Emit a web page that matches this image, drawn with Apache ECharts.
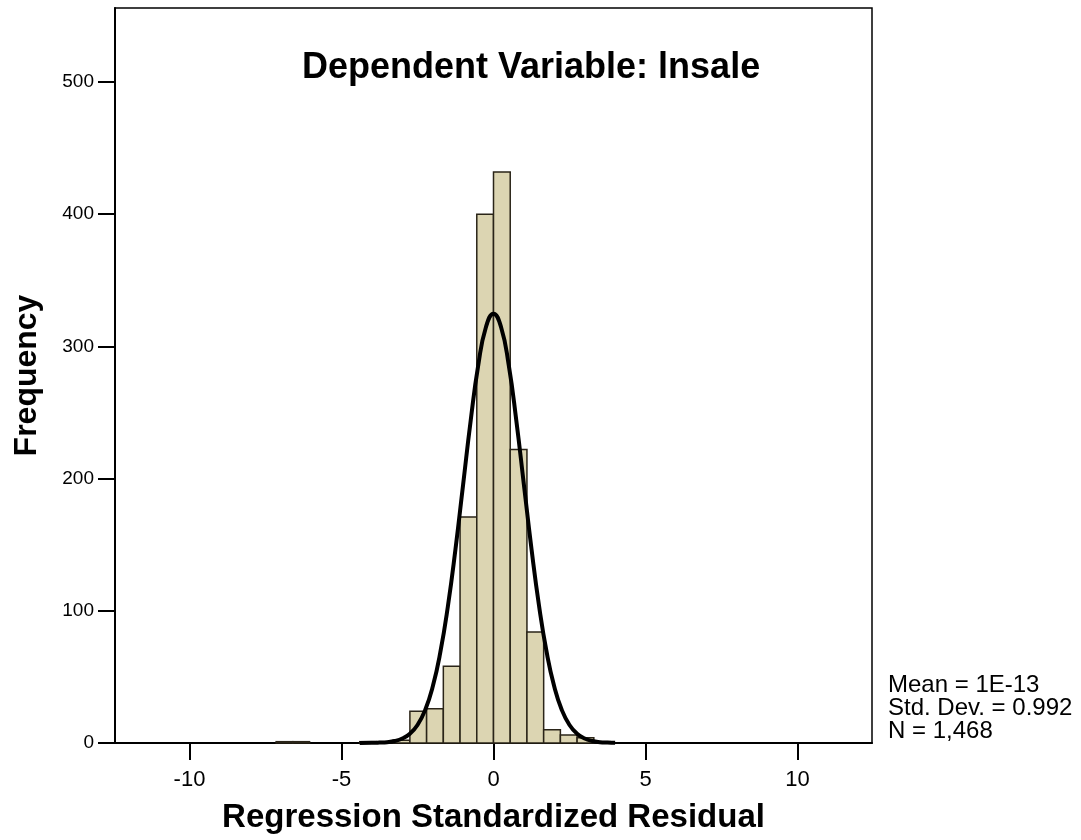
<!DOCTYPE html>
<html>
<head>
<meta charset="utf-8">
<script src="https://cdn.jsdelivr.net/npm/echarts@6/dist/echarts.min.js"></script>
<style>
  html, body { margin: 0; padding: 0; background: #fff; }
  #main { width: 1081px; height: 840px; }
</style>
</head>
<body>
<div id="main"></div>
<script>
var chart = echarts.init(document.getElementById('main'));

// histogram bins (start of each bin), width 0.55
var binWidth = 0.55;
var binStarts = [-7.15, -6.6, -4.4, -3.85, -3.3, -2.75, -2.2, -1.65, -1.1, -0.55, 0, 0.55, 1.1, 1.65, 2.2, 2.75, 3.3];
var counts    = [1, 1, 1, 1, 2, 24, 26, 58, 171, 400, 432, 222, 84, 10, 6, 4, 1];

// normal curve heights read along the x axis
var curveX = [-4.4, -4, -3.75, -3.5, -3.25, -3, -2.75, -2.5, -2.25, -2, -1.75, -1.5, -1.25, -1, -0.75, -0.5, -0.25, 0,
              0.25, 0.5, 0.75, 1, 1.25, 1.5, 1.75, 2, 2.25, 2.5, 2.75, 3, 3.25, 3.5, 3.75, 4];
var curveY = [0, 0.1, 0.3, 0.6, 1.5, 3.4, 7, 13.6, 24.8, 42.5, 68.5, 103.5, 146.8, 195.4, 244, 286, 314.5, 324.7,
              314.5, 286, 244, 195.4, 146.8, 103.5, 68.5, 42.5, 24.8, 13.6, 7, 3.4, 1.5, 0.6, 0.3, 0.1];

var yTicks = [0, 100, 200, 300, 400, 500];
var xTicks = [-10, -5, 0, 5, 10];

var statsLines = ['Mean = 1E-13', 'Std. Dev. = 0.992', 'N = 1,468'];

var font = "'Liberation Sans', Arial, sans-serif";

var barData = binStarts.map(function (s, i) {
  return [s, s + binWidth, counts[i]];
});
var curveData = curveX.map(function (x, i) { return [x, curveY[i]]; });

var option = {
  backgroundColor: '#fff',
  animation: false,
  title: {
    text: 'Dependent Variable: lnsale',
    left: 297,
    top: 45,
    textStyle: { fontFamily: font, fontSize: 36, fontWeight: 'bold', color: '#000' }
  },
  grid: {
    left: 115, right: 209, top: 8, bottom: 97,
    outerBoundsMode: 'none',
    containLabel: false,
    show: true, borderColor: '#000', borderWidth: 1.5, backgroundColor: '#fff'
  },
  xAxis: {
    type: 'value',
    min: -12.45, max: 12.45,
    name: 'Regression Standardized Residual',
    nameLocation: 'middle',
    nameGap: 58,
    nameTextStyle: { fontFamily: font, fontSize: 33, fontWeight: 'bold', color: '#000' },
    axisLine: { onZero: false, lineStyle: { color: '#000', width: 2 } },
    axisTick: { customValues: xTicks, length: 17, lineStyle: { color: '#000', width: 2 } },
    axisLabel: { customValues: xTicks, margin: 26, fontFamily: font, fontSize: 22, color: '#000' },
    splitLine: { show: false }
  },
  yAxis: {
    type: 'value',
    min: 0, max: 556,
    name: 'Frequency',
    nameLocation: 'middle',
    nameGap: 72,
    nameTextStyle: { fontFamily: font, fontSize: 32, fontWeight: 'bold', color: '#000' },
    axisLine: { show: true, onZero: false, lineStyle: { color: '#000', width: 2 } },
    axisTick: { show: true, customValues: yTicks, length: 17, lineStyle: { color: '#000', width: 2 } },
    axisLabel: { customValues: yTicks, margin: 21, fontFamily: font, fontSize: 19, color: '#000' },
    splitLine: { show: false }
  },
  series: [
    {
      type: 'custom',
      name: 'Frequency',
      renderItem: function (params, api) {
        var p0 = api.coord([api.value(0), api.value(2)]);
        var p1 = api.coord([api.value(1), 0]);
        return {
          type: 'rect',
          shape: { x: p0[0], y: p0[1], width: p1[0] - p0[0], height: p1[1] - p0[1] },
          style: { fill: '#dcd5b2', stroke: '#2a2418', lineWidth: 1.5 }
        };
      },
      encode: { x: [0, 1], y: 2 },
      data: barData,
      z: 2
    },
    {
      type: 'line',
      name: 'Normal',
      data: curveData,
      smooth: true,
      showSymbol: false,
      lineStyle: { color: '#000', width: 4 },
      z: 3
    }
  ],
  graphic: statsLines.map(function (t, i) {
    return {
      type: 'text',
      left: 888,
      top: 673 + i * 23,
      style: { text: t, fontFamily: font, fontSize: 24, fill: '#000' }
    };
  })
};

chart.setOption(option);
</script>
</body>
</html>
